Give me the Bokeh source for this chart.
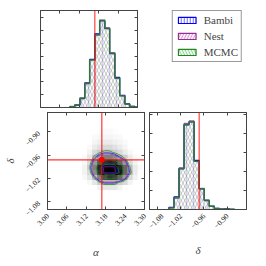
import math
import numpy as np
from bokeh.plotting import figure
from bokeh.layouts import column, row
from bokeh.models import (LinearAxis, FixedTicker, Span, LinearColorMapper,
                          Legend, LegendItem, Range1d)
from bokeh.palettes import Greys256
from bokeh.embed import file_html
from bokeh.resources import INLINE

# ---------------- data ----------------
series_names = ["Bambi", "Nest", "MCMC"]

alpha_true = 3.168
delta_true = -0.972

alpha_edges = [3.091, 3.106, 3.122, 3.137, 3.152, 3.168, 3.183, 3.199,
               3.214, 3.230, 3.245, 3.261, 3.276, 3.292, 3.307]
alpha_bambi = [0.6, 1.9, 7.0, 19.3, 37.6, 57.6, 67.6, 61.6, 42.0, 23.6, 9.5, 2.9, 0.9, 0.3]
alpha_nest = [0.7, 2.0, 7.2, 19.0, 37.3, 57.0, 68.0, 62.3, 42.8, 22.6, 9.2, 2.7, 0.8, 0.2]
alpha_mcmc = [0.8, 2.1, 7.6, 18.5, 37.0, 56.5, 68.4, 62.0, 42.5, 23.0, 9.0, 2.6, 0.8, 0.2]

delta_edges = [-1.050, -1.037, -1.024, -1.011, -0.998, -0.985, -0.972,
               -0.959, -0.946, -0.933, -0.920, -0.907, -0.894, -0.881]
delta_bambi = [1.1, 6.6, 21.4, 44.5, 46.0, 25.8, 10.8, 4.7, 1.8, 0.6, 0.2, 0.4, 0.1]
delta_nest = [0.9, 6.0, 21.9, 45.3, 46.6, 25.2, 10.9, 5.0, 1.6, 0.5, 0.2, 0.3, 0.1]
delta_mcmc = [0.8, 6.2, 21.6, 44.7, 46.2, 25.4, 11.0, 4.9, 1.7, 0.5, 0.2, 0.3, 0.1]

# 2-D density (rows: delta bins low->high, cols: alpha bins), darkness 0..10
density2d = [
    [0, 0, 0, 0, 0.5, 1, 1, 1, 0.5, 0, 0, 0, 0, 0],
    [0, 0, 0.3, 1, 2, 3, 3, 3, 2, 1.5, 0.5, 0, 0, 0],
    [0, 0.3, 1, 2.5, 5, 7, 8, 7.5, 6, 4, 1.5, 0.5, 0, 0],
    [0, 0.5, 1.5, 4.5, 8, 10, 10, 10, 9, 6, 3, 0.8, 0, 0],
    [0, 0.5, 2, 5, 8.5, 10, 10, 10, 8.5, 6, 2.5, 0.8, 0.2, 0],
    [0, 0.3, 1.5, 4, 6.5, 8, 8.5, 8, 6, 4, 1.5, 0.5, 0, 0],
    [0, 0.2, 1, 2.5, 4, 5, 5, 4.5, 3, 2, 0.8, 0.2, 0, 0],
    [0, 0, 0.5, 1.5, 2, 2.5, 2.5, 2, 1.5, 0.8, 0.3, 0, 0, 0],
    [0, 0, 0.2, 0.8, 1.2, 1.5, 1.5, 1.2, 0.8, 0.4, 0, 0, 0, 0],
    [0, 0, 0, 0.4, 0.6, 0.8, 0.8, 0.6, 0.4, 0.2, 0, 0, 0, 0],
    [0, 0, 0, 0.2, 0.3, 0.4, 0.4, 0.3, 0.2, 0, 0, 0, 0, 0],
    [0, 0, 0, 0, 0.1, 0.2, 0.2, 0.1, 0, 0, 0, 0, 0, 0],
    [0, 0, 0, 0, 0, 0, 0, 0, 0, 0, 0, 0, 0, 0],
]
contour_levels_bambi = [2.8, 9.5]
contour_levels_nest = [3.3, 9.8]
contour_levels_mcmc = [2.2, 6.5, 9.0]

alpha_ticks = [3.00, 3.06, 3.12, 3.18, 3.24, 3.30]
alpha_tick_labels = ["3.00", "3.06", "3.12", "3.18", "3.24", "3.30"]
delta_ticks = [-1.08, -1.02, -0.96, -0.90]
delta_tick_labels = ["\u22121.08", "\u22121.02", "\u22120.96", "\u22120.90"]
alpha_hist_yticks = [10, 20, 30, 40, 50, 60, 70]
delta_hist_yticks = [10, 20, 30, 40, 50]

alpha_range = (3.00, 3.30)
delta_range = (-1.10, -0.85)
alpha_hist_top = 75.8
delta_hist_top = 51.0

# ---------------- styling ----------------
FONT = "Liberation Serif"
FRAME = "#444444"
C_BAMBI = "#0000ff"
C_NEST = "#9a2a9a"
C_MCMC = "#1a8a1a"
FRAME_SIZE = 97


def style_axis(ax, ticks, labels=None, rotate=False, standoff=5):
    ax.ticker = FixedTicker(ticks=ticks, minor_ticks=[])
    ax.major_tick_in = 3
    ax.major_tick_out = 0
    ax.minor_tick_in = 0
    ax.minor_tick_out = 0
    ax.axis_line_color = FRAME
    ax.axis_line_width = 1
    ax.major_tick_line_color = FRAME
    if labels is None:
        ax.major_label_text_font_size = "1px"
        ax.major_label_text_color = None
        ax.major_label_standoff = 0
    else:
        ax.major_label_overrides = {t: l for t, l in zip(ticks, labels)}
        ax.major_label_text_font = FONT
        ax.major_label_text_font_size = "7.5px"
        ax.major_label_text_color = "#111111"
        ax.major_label_standoff = standoff
        if rotate:
            ax.major_label_orientation = math.pi / 4


def make_panel(xr, yr, xticks, yticks, bl, br, bt, bb,
               xlabels=None, ylabels=None, xtitle=None, ytitle=None,
               xtitle_standoff=10, ytitle_standoff=3):
    f = figure(frame_width=FRAME_SIZE, frame_height=FRAME_SIZE,
               x_range=Range1d(*xr), y_range=Range1d(*yr),
               x_axis_type=None, y_axis_type=None,
               toolbar_location=None, output_backend="svg",
               min_border_left=bl, min_border_right=br,
               min_border_top=bt, min_border_bottom=bb)
    f.outline_line_color = FRAME
    f.background_fill_color = "white"
    f.border_fill_color = "white"
    bottom = LinearAxis()
    style_axis(bottom, xticks, xlabels, rotate=True, standoff=5)
    top = LinearAxis()
    style_axis(top, xticks)
    left = LinearAxis()
    style_axis(left, yticks, ylabels, rotate=True, standoff=9)
    right = LinearAxis()
    style_axis(right, yticks)
    for ax, title, so in ((bottom, xtitle, xtitle_standoff), (left, ytitle, ytitle_standoff)):
        if title:
            ax.axis_label = title
            ax.axis_label_text_font = FONT
            ax.axis_label_text_font_style = "italic"
            ax.axis_label_text_font_size = "11px"
            ax.axis_label_standoff = so
    f.add_layout(bottom, "below")
    f.add_layout(top, "above")
    f.add_layout(left, "left")
    f.add_layout(right, "right")
    return f


def draw_hist(f, edges, heights, color, pattern, hatch_alpha, lw, la):
    f.quad(left=edges[:-1], right=edges[1:], bottom=0, top=heights,
           fill_alpha=0, line_color=None,
           hatch_pattern=pattern, hatch_color=color, hatch_alpha=hatch_alpha,
           hatch_scale=7, hatch_weight=0.7)
    xs = [edges[0]]
    ys = [0]
    for i, h in enumerate(heights):
        xs += [edges[i], edges[i + 1]]
        ys += [h, h]
    xs.append(edges[-1])
    ys.append(0)
    f.line(xs, ys, line_color=color, line_width=lw, line_alpha=la)


# ---------------- top-left: alpha histogram ----------------
f1 = make_panel(alpha_range, (0, alpha_hist_top), alpha_ticks, alpha_hist_yticks,
                40, 3, 10, 2)
draw_hist(f1, alpha_edges, alpha_bambi, C_BAMBI, "vertical_line", 0.25, 1.2, 1.0)
draw_hist(f1, alpha_edges, alpha_nest, C_NEST, "right_diagonal_line", 0.45, 1.0, 1.0)
draw_hist(f1, alpha_edges, alpha_mcmc, C_MCMC, "left_diagonal_line", 0.45, 1.5, 0.75)
f1.add_layout(Span(location=alpha_true, dimension="height", line_color="red",
                   line_alpha=0.75, line_width=1.2))

# ---------------- bottom-left: 2-D ----------------
f2 = make_panel(alpha_range, delta_range, alpha_ticks, delta_ticks,
                40, 3, 3, 41,
                xlabels=alpha_tick_labels, ylabels=delta_tick_labels,
                xtitle="\u03b1", ytitle="\u03b4", xtitle_standoff=15, ytitle_standoff=3)
z = np.array(density2d, dtype=float)
mapper = LinearColorMapper(palette=list(Greys256[::-1]), low=0, high=10)
f2.image(image=[z], x=alpha_edges[0], y=delta_edges[0],
         dw=alpha_edges[-1] - alpha_edges[0], dh=delta_edges[-1] - delta_edges[0],
         color_mapper=mapper)
a_centers = [(alpha_edges[i] + alpha_edges[i + 1]) / 2 for i in range(len(alpha_edges) - 1)]
d_centers = [(delta_edges[i] + delta_edges[i + 1]) / 2 for i in range(len(delta_edges) - 1)]
for levels, color in ((contour_levels_bambi, C_BAMBI),
                      (contour_levels_nest, C_NEST),
                      (contour_levels_mcmc, C_MCMC)):
    f2.contour(x=a_centers, y=d_centers, z=z, levels=levels,
               line_color=color, line_width=0.7)
f2.add_layout(Span(location=alpha_true, dimension="height", line_color="red",
                   line_alpha=0.8, line_width=1.2))
f2.add_layout(Span(location=delta_true, dimension="width", line_color="red",
                   line_alpha=0.8, line_width=1.2))
f2.scatter([alpha_true], [delta_true], size=5, color="red")

# ---------------- bottom-right: delta histogram ----------------
f3 = make_panel(delta_range, (0, delta_hist_top), delta_ticks, delta_hist_yticks,
                2, 3, 3, 41, xlabels=delta_tick_labels, xtitle="\u03b4",
                xtitle_standoff=10)
draw_hist(f3, delta_edges, delta_bambi, C_BAMBI, "vertical_line", 0.25, 1.2, 1.0)
draw_hist(f3, delta_edges, delta_nest, C_NEST, "right_diagonal_line", 0.45, 1.0, 1.0)
draw_hist(f3, delta_edges, delta_mcmc, C_MCMC, "left_diagonal_line", 0.45, 1.5, 0.75)
f3.add_layout(Span(location=delta_true, dimension="height", line_color="red",
                   line_alpha=0.75, line_width=1.2))

# ---------------- top-right: legend ----------------
# legend swatches: dummy quads placed outside the visible range of this empty panel
legend_dummy = [5.0]
fleg = figure(frame_width=100, frame_height=98, x_range=Range1d(0, 1), y_range=Range1d(0, 1),
              x_axis_type=None, y_axis_type=None, toolbar_location=None,
              output_backend="svg", min_border_left=2, min_border_right=0,
              min_border_top=9, min_border_bottom=2)
fleg.outline_line_color = None
items = []
for name, color, pattern, scale in ((series_names[0], C_BAMBI, "vertical_line", 3),
                                    (series_names[1], C_NEST, "right_diagonal_line", 6),
                                    (series_names[2], C_MCMC, "left_diagonal_line", 6)):
    r = fleg.quad(left=legend_dummy, right=legend_dummy, top=legend_dummy,
                  bottom=legend_dummy, fill_alpha=0,
                  line_color=color, line_width=1.2, hatch_pattern=pattern,
                  hatch_color=color, hatch_alpha=0.7, hatch_scale=scale, hatch_weight=0.8)
    items.append(LegendItem(label=name, renderers=[r]))
legend = Legend(items=items, location="top_right", margin=0, padding=3, spacing=4,
                label_height=11, glyph_height=8, glyph_width=22, label_standoff=6,
                label_width=0, label_text_font=FONT, label_text_font_size="11px",
                label_text_baseline="middle",
                border_line_color="#333333", border_line_width=1,
                background_fill_color="white", background_fill_alpha=1)
fleg.add_layout(legend)

layout = column(row(f1, fleg), row(f2, f3))
open("out.html", "w").write(file_html(layout, INLINE))
